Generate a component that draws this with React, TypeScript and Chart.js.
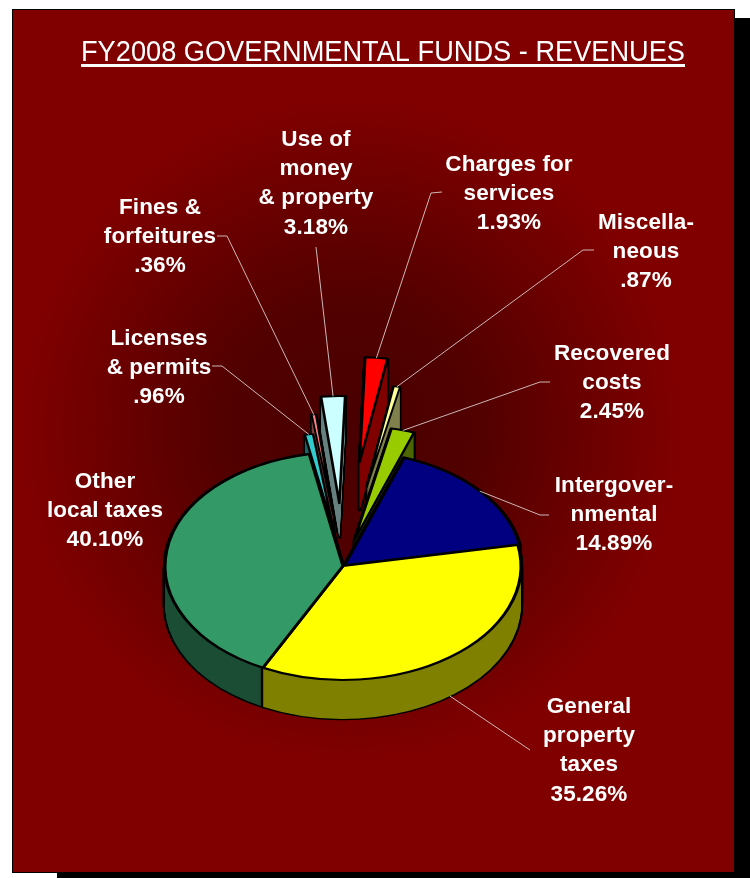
import React, { useEffect, useRef } from "react";
import { Chart, registerables } from "chart.js";

Chart.register(...registerables);

const categories = [
  "Licenses & permits",
  "Fines & forfeitures",
  "Use of money & property",
  "Charges for services",
  "Miscellaneous",
  "Recovered costs",
  "Intergovernmental",
  "General property taxes",
  "Other local taxes",
];
const shares = [0.96, 0.36, 3.18, 1.93, 0.87, 2.45, 14.89, 35.26, 40.1];
const shareLabels = [".96%", ".36%", "3.18%", "1.93%", ".87%", "2.45%", "14.89%", "35.26%", "40.10%"];
const labelLines = [
  ["Licenses", "& permits"],
  ["Fines &", "forfeitures"],
  ["Use of", "money", "& property"],
  ["Charges for", "services"],
  ["Miscella-", "neous"],
  ["Recovered", "costs"],
  ["Intergover-", "nmental"],
  ["General", "property", "taxes"],
  ["Other", "local taxes"],
];

// Slice styling
const topColors = ["#33cccc", "#ff8080", "#ccffff", "#ff0000", "#ffff99", "#99cc00", "#000080", "#ffff00", "#339966"];
const wallColors = ["#1a6666", "#804040", "#668080", "#800000", "#80804d", "#4d6600", "#000040", "#808000", "#1a4d33"];
const borderWidths = [2.4, 2, 2.6, 2.6, 2, 2.6, 3.2, 3.2, 3.2];
// Pull-out distance of each wedge, its radius factor and its angular foreshortening under the tilted view
const explode = [57, 80, 98, 163, 125, 42, 2, 0, 0];
const radiusFactor = [0.85, 0.89, 0.94, 0.92, 0.9, 1, 1, 1, 1];
const angleWarp = [0.92, 1.2, 0.72, 1.12, 0.72, 0.85, 1.1175, 1.003, 0.986];
const wallDepth = [30, 34, 34, 48, 40, 39, 39, 39, 39];
// Walls are painted back to front; the yellow wall overlaps the green one
const wallOrder = [0, 1, 2, 3, 4, 5, 6, 8, 7];

const PIE_RADIUS = 178;
const TILT = 0.64;
const WIDTH = 750;
const HEIGHT = 878;
const TITLE = "FY2008 GOVERNMENTAL FUNDS - REVENUES";

// Label block centre x, first-line centre y; leader start and knee
const labelBoxes = [
  { x: 159, y: 338.5, leader: [[212, 366], [222, 366]] },
  { x: 160, y: 207.5, leader: [[217, 236], [227, 236]] },
  { x: 316, y: 139.5, leader: [[316, 247]] },
  { x: 509, y: 164.5, leader: [[442, 192], [431, 193]] },
  { x: 646, y: 222.5, leader: [[594, 250], [583, 250]] },
  { x: 612, y: 353.5, leader: [[550, 382], [540, 382]] },
  { x: 614, y: 485.5, leader: [[549, 515], [540, 515]] },
  { x: 589, y: 706.5, leader: [[530, 750]] },
  { x: 105, y: 481.5, leader: null },
];

const toScreenY = (y: number, cy: number) => cy + (y - cy) * TILT;

const explodedPie = {
  id: "explodedPie",
  afterDatasetsUpdate(chart: any) {
    const arcs = chart.getDatasetMeta(0).data;
    const cx = (chart.chartArea.left + chart.chartArea.right) / 2;
    const cy = (chart.chartArea.top + chart.chartArea.bottom) / 2;
    let angle = arcs[0].startAngle;
    arcs.forEach((arc: any, i: number) => {
      const sweep = arc.circumference * angleWarp[i];
      const mid = angle + sweep / 2;
      arc.startAngle = angle;
      arc.endAngle = angle + sweep;
      arc.circumference = sweep;
      arc.x = cx + Math.cos(mid) * explode[i];
      arc.y = cy + Math.sin(mid) * explode[i];
      arc.outerRadius = PIE_RADIUS * radiusFactor[i];
      angle += sweep;
    });
  },
  beforeDatasetDraw(chart: any) {
    const { ctx } = chart;
    const arcs = chart.getDatasetMeta(0).data;
    const cy = (chart.chartArea.top + chart.chartArea.bottom) / 2;
    ctx.save();
    ctx.translate(0, cy);
    ctx.scale(1, TILT);
    ctx.translate(0, -cy);
    // Side walls: the wedge footprint swept downward, outlined first and then filled
    wallOrder.forEach((i) => {
      const arc = arcs[i];
      const sector = (drop: number) => {
        ctx.beginPath();
        ctx.moveTo(arc.x, arc.y + drop);
        ctx.arc(arc.x, arc.y + drop, arc.outerRadius, arc.startAngle, arc.endAngle);
        ctx.closePath();
      };
      ctx.strokeStyle = "#000";
      ctx.lineWidth = borderWidths[i] + 1.2;
      ctx.lineJoin = "round";
      for (let d = 0; d <= wallDepth[i]; d += 1) {
        sector(d / TILT);
        ctx.stroke();
      }
      ctx.fillStyle = wallColors[i];
      for (let d = 0; d <= wallDepth[i]; d += 1) {
        sector(d / TILT);
        ctx.fill();
      }
    });
  },
  afterDatasetDraw(chart: any) {
    chart.ctx.restore();
  },
  afterDraw(chart: any) {
    const { ctx } = chart;
    const arcs = chart.getDatasetMeta(0).data;
    const cy = (chart.chartArea.top + chart.chartArea.bottom) / 2;
    ctx.save();
    // Leader lines run from each label to the outer rim of its wedge
    ctx.strokeStyle = "rgba(225,215,215,0.85)";
    ctx.lineWidth = 1;
    labelBoxes.forEach((box, i) => {
      if (!box.leader) return;
      const arc = arcs[i];
      const mid = (arc.startAngle + arc.endAngle) / 2;
      const rimX = arc.x + Math.cos(mid) * arc.outerRadius;
      const rimY = toScreenY(arc.y + Math.sin(mid) * arc.outerRadius, cy) + (i === 7 ? wallDepth[i] : 0);
      ctx.beginPath();
      box.leader.forEach(([x, y], k) => (k ? ctx.lineTo(x, y) : ctx.moveTo(x, y)));
      ctx.lineTo(rimX, rimY);
      ctx.stroke();
    });
    // Labels
    ctx.fillStyle = "#fff";
    ctx.textAlign = "center";
    ctx.textBaseline = "middle";
    ctx.font = 'bold 22.5px "Liberation Sans", Arial, sans-serif';
    ctx.letterSpacing = "0.1px";
    labelBoxes.forEach((box, i) => {
      [...labelLines[i], shareLabels[i]].forEach((line, k) => {
        ctx.fillText(line, box.x, box.y + k * 29.3);
      });
    });
    // Underlined heading, condensed to its 604px measure
    ctx.letterSpacing = "0px";
    ctx.font = '30px "Liberation Sans", Arial, sans-serif';
    ctx.textAlign = "left";
    ctx.textBaseline = "alphabetic";
    const natural = ctx.measureText(TITLE).width;
    ctx.save();
    ctx.translate(81, 60.5);
    ctx.scale(604 / natural, 1);
    ctx.fillText(TITLE, 0, 0);
    ctx.restore();
    ctx.fillRect(81, 64, 604, 3);
    ctx.restore();
  },
  beforeDraw(chart: any) {
    const { ctx } = chart;
    ctx.save();
    // Drop shadow, black keyline and the shaded panel
    ctx.fillStyle = "#000";
    ctx.fillRect(57, 18, WIDTH - 57, HEIGHT - 18);
    ctx.fillRect(12, 9, 723, 864);
    const glow = ctx.createRadialGradient(350, 430, 20, 350, 430, 330);
    glow.addColorStop(0, "#4a0000");
    glow.addColorStop(0.35, "#520000");
    glow.addColorStop(1, "#800000");
    ctx.fillStyle = glow;
    ctx.fillRect(13, 10, 721, 862);
    ctx.restore();
  },
};

export default function App() {
  const canvasRef = useRef<HTMLCanvasElement | null>(null);

  useEffect(() => {
    const chart = new Chart(canvasRef.current as HTMLCanvasElement, {
      type: "pie",
      data: {
        labels: categories,
        datasets: [
          {
            data: shares,
            backgroundColor: topColors,
            borderColor: "#000",
            borderWidth: borderWidths,
            borderJoinStyle: "round",
            radius: PIE_RADIUS,
            rotation: -11,
            clip: false,
          },
        ],
      },
      options: {
        responsive: false,
        animation: false,
        events: [],
        layout: { padding: { left: 0, right: 64, top: 254, bottom: 0 } },
        plugins: { legend: { display: false }, tooltip: { enabled: false }, title: { display: false } },
      },
      plugins: [explodedPie],
    } as any);
    return () => chart.destroy();
  }, []);

  return (
    <div style={{ position: "absolute", left: 0, top: 0, width: WIDTH, height: HEIGHT }}>
      <canvas ref={canvasRef} width={WIDTH} height={HEIGHT} style={{ display: "block" }} />
    </div>
  );
}
